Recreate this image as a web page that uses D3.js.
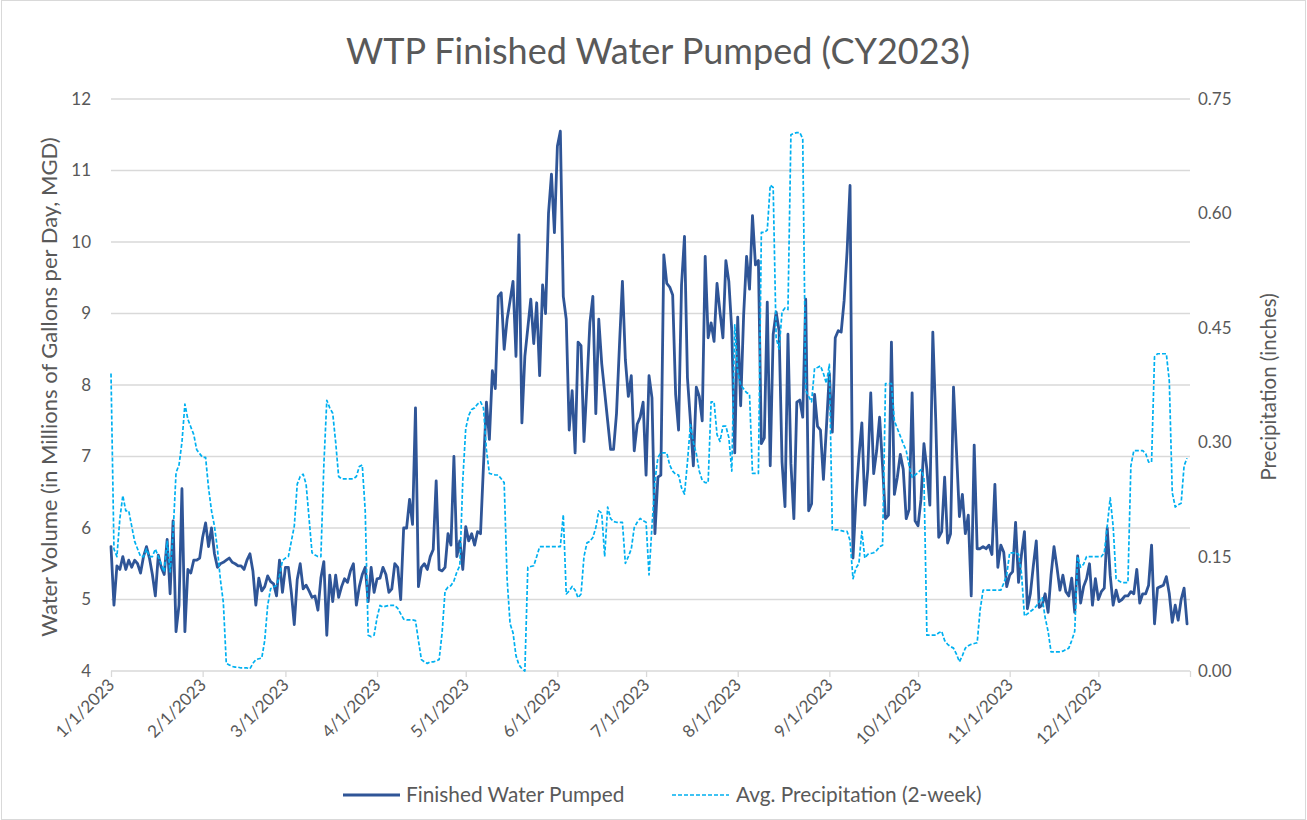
<!DOCTYPE html>
<html>
<head>
<meta charset="utf-8">
<script src="https://cdn.jsdelivr.net/npm/d3@7"></script>
<style>
  html, body { margin: 0; padding: 0; background: #fff; }
  svg { display: block; }
  text { font-family: Lato, "Open Sans", sans-serif; fill: #595959; }
</style>
</head>
<body>
<svg id="chart" width="1307" height="820"></svg>
<script>
// ---------------- DATA ----------------
const startDate = "2023-01-01";   // first daily observation
const endDate = "2024-01-01";     // axis end
const monthTickLabels = ["1/1/2023","2/1/2023","3/1/2023","4/1/2023","5/1/2023","6/1/2023",
                         "7/1/2023","8/1/2023","9/1/2023","10/1/2023","11/1/2023","12/1/2023"];
const leftTicks = [4,5,6,7,8,9,10,11,12];
const rightTicks = [0.00,0.15,0.30,0.45,0.60,0.75];

// Finished Water Pumped (MGD), daily 1/1/2023 .. 12/31/2023
const finishedWater = [
 5.74,4.92,5.47,5.42,5.60,5.42,5.55,5.45,5.55,5.50,
 5.37,5.60,5.74,5.58,5.35,5.05,5.62,5.45,5.35,5.84,
 5.08,6.10,4.55,4.92,6.55,4.55,5.42,5.37,5.55,5.55,
 5.58,5.87,6.07,5.74,6.00,5.64,5.45,5.50,5.52,5.55,
 5.58,5.52,5.50,5.47,5.47,5.42,5.55,5.64,5.40,4.92,
 5.30,5.12,5.18,5.33,5.25,5.22,5.05,5.55,5.10,5.45,
 5.45,5.10,4.65,5.28,5.50,5.15,5.20,5.12,5.03,5.05,
 4.85,5.30,5.53,4.50,5.34,4.97,5.34,5.03,5.18,5.29,
 5.24,5.40,5.50,4.92,5.18,5.35,5.45,4.97,5.45,5.10,
 5.29,5.30,5.45,5.35,5.10,5.15,5.50,5.45,5.00,6.00,
 6.00,6.40,6.05,7.68,5.18,5.45,5.50,5.42,5.60,5.70,
 6.66,5.42,5.40,5.45,5.92,5.76,7.00,5.60,5.82,5.42,
 6.02,5.82,5.92,5.76,5.95,5.92,6.87,7.76,7.24,8.20,
 7.95,9.24,9.29,8.50,8.92,9.18,9.45,8.40,10.10,7.47,
 8.40,8.80,9.20,8.58,9.15,8.13,9.40,9.00,10.40,10.95,
 10.13,11.34,11.55,9.24,8.92,7.37,7.92,7.05,8.60,8.55,
 7.21,8.00,8.87,9.24,7.60,8.92,8.30,7.90,7.50,7.10,
 7.10,7.60,8.55,9.45,8.35,7.84,8.13,7.08,7.45,7.55,
 7.76,6.74,8.13,7.82,5.92,6.71,6.74,9.82,9.42,9.37,
 9.26,7.87,7.37,9.40,10.08,8.10,7.50,6.87,7.97,7.84,
 7.50,9.80,8.66,8.87,8.61,9.42,9.02,8.66,9.74,9.45,
 8.76,7.05,8.95,7.71,8.97,9.80,9.34,10.37,9.68,9.74,
 7.18,7.26,9.16,6.87,8.71,9.02,8.76,6.92,6.30,8.71,
 6.90,6.13,7.76,7.79,7.55,9.20,6.24,6.34,7.87,7.42,
 7.37,6.68,7.40,8.16,7.34,8.66,8.76,8.74,9.18,9.87,
 10.79,5.58,6.40,7.00,7.47,6.32,6.82,7.89,6.76,7.08,
 7.55,6.87,6.13,6.18,8.60,6.47,6.71,7.03,6.82,6.13,
 6.26,7.89,6.10,6.03,6.40,7.18,6.82,6.32,8.74,7.50,
 5.87,5.95,6.71,5.79,5.92,7.97,7.08,6.16,6.47,5.92,
 6.18,5.05,7.16,5.71,5.71,5.74,5.71,5.76,5.63,6.61,
 5.45,5.76,5.66,5.18,5.34,5.39,6.08,5.24,5.63,5.95,
 4.87,5.08,5.47,5.82,4.89,4.92,5.08,4.82,5.34,5.74,
 5.45,5.13,5.34,5.11,5.05,5.30,4.82,5.61,4.95,5.18,
 5.29,5.50,4.92,5.29,5.00,5.11,5.16,6.00,5.34,4.92,
 5.13,4.97,5.00,5.05,5.05,5.11,5.08,5.42,4.95,5.08,
 5.08,5.20,5.76,4.66,5.16,5.18,5.20,5.32,5.08,4.68,
 4.92,4.71,5.00,5.16,4.66
];

// Avg. Precipitation (2-week), inches, daily 1/1/2023 .. 12/31/2023
const avgPrecip = [
 0.390,0.160,0.150,0.200,0.230,0.210,0.210,0.190,0.170,0.160,
 0.150,0.150,0.160,0.150,0.150,0.160,0.150,0.140,0.130,0.170,
 0.130,0.180,0.260,0.270,0.300,0.350,0.330,0.320,0.310,0.290,
 0.285,0.280,0.280,0.240,0.210,0.190,0.160,0.120,0.090,0.010,
 0.008,0.006,0.005,0.005,0.004,0.004,0.004,0.003,0.010,0.015,
 0.016,0.017,0.040,0.086,0.108,0.110,0.112,0.125,0.145,0.148,
 0.150,0.170,0.190,0.245,0.255,0.258,0.245,0.200,0.155,0.152,
 0.150,0.150,0.270,0.355,0.345,0.338,0.300,0.255,0.252,0.252,
 0.252,0.252,0.252,0.255,0.268,0.270,0.210,0.047,0.045,0.047,
 0.070,0.086,0.084,0.085,0.086,0.086,0.086,0.082,0.075,0.068,
 0.067,0.067,0.067,0.066,0.040,0.015,0.012,0.010,0.012,0.012,
 0.013,0.015,0.050,0.105,0.110,0.112,0.118,0.130,0.138,0.250,
 0.318,0.335,0.343,0.345,0.350,0.353,0.345,0.290,0.259,0.258,
 0.257,0.257,0.252,0.247,0.120,0.062,0.050,0.020,0.008,0.003,
 0.000,0.136,0.137,0.138,0.150,0.163,0.163,0.163,0.163,0.163,
 0.163,0.163,0.163,0.205,0.101,0.105,0.111,0.106,0.096,0.101,
 0.150,0.168,0.170,0.175,0.188,0.210,0.207,0.150,0.215,0.200,
 0.196,0.195,0.195,0.195,0.141,0.150,0.160,0.188,0.195,0.200,
 0.197,0.195,0.126,0.190,0.249,0.280,0.286,0.286,0.286,0.270,
 0.262,0.258,0.257,0.240,0.232,0.274,0.323,0.300,0.285,0.262,
 0.250,0.247,0.247,0.353,0.353,0.310,0.301,0.321,0.321,0.306,
 0.262,0.454,0.392,0.375,0.370,0.365,0.363,0.259,0.259,0.259,
 0.575,0.575,0.578,0.637,0.634,0.437,0.422,0.471,0.476,0.474,
 0.703,0.705,0.706,0.706,0.698,0.368,0.360,0.353,0.397,0.398,
 0.400,0.390,0.377,0.402,0.185,0.185,0.185,0.184,0.183,0.183,
 0.171,0.121,0.135,0.141,0.183,0.148,0.153,0.154,0.155,0.158,
 0.163,0.165,0.377,0.377,0.377,0.328,0.318,0.308,0.298,0.289,
 0.269,0.254,0.257,0.260,0.264,0.254,0.047,0.047,0.047,0.047,
 0.050,0.052,0.040,0.035,0.032,0.030,0.022,0.012,0.020,0.030,
 0.033,0.035,0.036,0.037,0.080,0.106,0.106,0.106,0.106,0.106,
 0.106,0.106,0.115,0.126,0.155,0.155,0.155,0.153,0.128,0.072,
 0.075,0.078,0.081,0.085,0.091,0.096,0.070,0.052,0.025,0.025,
 0.025,0.025,0.026,0.028,0.030,0.040,0.052,0.150,0.136,0.140,
 0.150,0.150,0.150,0.150,0.150,0.150,0.155,0.190,0.227,0.190,
 0.121,0.118,0.116,0.116,0.116,0.269,0.289,0.289,0.289,0.289,
 0.285,0.274,0.274,0.412,0.416,0.416,0.416,0.416,0.380,0.234,
 0.215,0.218,0.220,0.269,0.279
];

// ---------------- CHART ----------------
const svg = d3.select("#chart");
const W = 1307, H = 820;
const plot = { left: 111, right: 1190, top: 99, bottom: 671 };
const gridColor = "#d9d9d9";
const textColor = "#595959";
const flowColor = "#2f5597";
const precipColor = "#00b0f0";
const fontFam = "Lato, sans-serif";

// chart area border
svg.append("rect").attr("x", 1.5).attr("y", 0.5).attr("width", W - 3).attr("height", H - 1)
  .attr("fill", "#fff").attr("stroke", "#d9d9d9");

const parse = d3.timeParse("%Y-%m-%d");
const t0 = parse(startDate), t1 = parse(endDate);
const dates = finishedWater.map((_, i) => d3.timeDay.offset(t0, i));

const x = d3.scaleTime().domain([t0, t1]).range([plot.left, plot.right]);
const yL = d3.scaleLinear().domain([4, 12]).range([plot.bottom, plot.top]);
const yR = d3.scaleLinear().domain([0, 0.75]).range([plot.bottom, plot.top]);

// Gridlines
svg.append("g").selectAll("line").data(leftTicks.slice(1)).join("line")
  .attr("x1", plot.left).attr("x2", plot.right)
  .attr("y1", d => yL(d)).attr("y2", d => yL(d))
  .attr("stroke", gridColor).attr("stroke-width", 1.3);

// Left axis
const leftAxis = d3.axisLeft(yL).tickValues(leftTicks).tickSize(0).tickPadding(18).tickFormat(d3.format("d"));
const gL = svg.append("g").attr("transform", `translate(${plot.left - 2},0)`).call(leftAxis);
gL.select(".domain").remove();
gL.selectAll("text").attr("font-size", 17).attr("fill", textColor).attr("font-family", fontFam);

// Right axis
const rightAxis = d3.axisRight(yR).tickValues(rightTicks).tickSize(0).tickPadding(8).tickFormat(d3.format(".2f"));
const gR = svg.append("g").attr("transform", `translate(${plot.right},0)`).call(rightAxis);
gR.select(".domain").remove();
gR.selectAll("text").attr("font-size", 17).attr("fill", textColor).attr("font-family", fontFam);

// X axis
const monthDates = d3.timeMonth.range(t0, d3.timeDay.offset(t1, 1));
const labelOf = new Map(monthDates.slice(0, monthTickLabels.length).map((d, i) => [+d, monthTickLabels[i]]));
const xAxis = d3.axisBottom(x).tickValues(monthDates).tickSize(6).tickPadding(4)
  .tickFormat(d => labelOf.get(+d) || "");
const gX = svg.append("g").attr("transform", `translate(0,${plot.bottom})`).call(xAxis);
gX.select(".domain").attr("stroke", gridColor).attr("stroke-width", 1.3)
  .attr("d", `M${plot.left},0H${plot.right}`);
gX.selectAll(".tick line").attr("stroke", gridColor).attr("stroke-width", 1.3);
gX.selectAll(".tick text")
  .attr("font-size", 17).attr("fill", textColor).attr("font-family", fontFam)
  .attr("text-anchor", "end").attr("dy", 0)
  .attr("transform", "translate(-3,8) rotate(-45)");

// Lines
const flowLine = d3.line().x((d, i) => x(dates[i])).y(d => yL(d));
svg.append("path").datum(finishedWater).attr("d", flowLine)
  .attr("fill", "none").attr("stroke", flowColor).attr("stroke-width", 2.8)
  .attr("stroke-linejoin", "round").attr("stroke-linecap", "round");

const precipLine = d3.line().x((d, i) => x(dates[i])).y(d => yR(d));
svg.append("path").datum(avgPrecip).attr("d", precipLine)
  .attr("fill", "none").attr("stroke", precipColor).attr("stroke-width", 1.7)
  .attr("stroke-dasharray", "4,2").attr("stroke-linejoin", "round");

// Title
svg.append("text").attr("x", 658).attr("y", 64).attr("text-anchor", "middle")
  .attr("font-size", 36).attr("fill", textColor).text("WTP Finished Water Pumped (CY2023)");

// Axis titles
svg.append("text").attr("transform", `translate(57,387) rotate(-90)`).attr("text-anchor", "middle")
  .attr("font-size", 22).attr("fill", textColor)
  .text("Water Volume (in Millions of Gallons per Day, MGD)");
svg.append("text").attr("transform", `translate(1276,387) rotate(-90)`).attr("text-anchor", "middle")
  .attr("font-size", 20.5).attr("fill", textColor)
  .text("Precipitation (inches)");

// Legend
const legend = svg.append("g").attr("transform", "translate(0,795)");
legend.append("line").attr("x1", 343).attr("x2", 400).attr("y1", 0).attr("y2", 0)
  .attr("stroke", flowColor).attr("stroke-width", 2.8);
legend.append("text").attr("x", 406).attr("y", 7).attr("font-size", 20.8).attr("fill", textColor)
  .text("Finished Water Pumped");
legend.append("line").attr("x1", 672).attr("x2", 729).attr("y1", 0).attr("y2", 0)
  .attr("stroke", precipColor).attr("stroke-width", 1.7).attr("stroke-dasharray", "4,2");
legend.append("text").attr("x", 736).attr("y", 7).attr("font-size", 20.8).attr("fill", textColor)
  .text("Avg. Precipitation (2-week)");
</script>
</body>
</html>
